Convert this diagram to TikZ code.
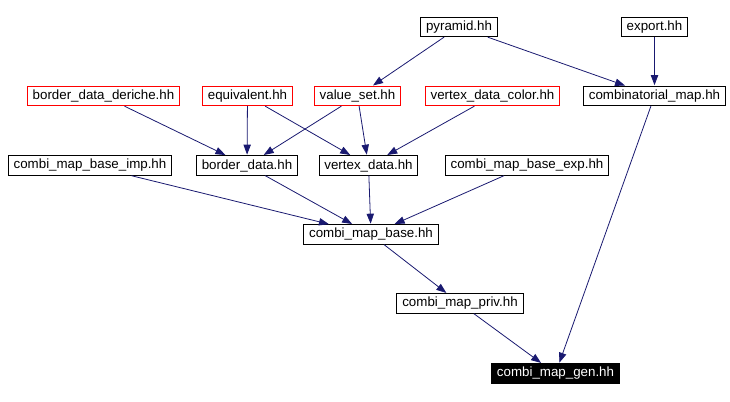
\documentclass[tikz,border=0pt]{standalone}
\usepackage{fontspec}
\setmainfont{Liberation Sans}
\usepackage{tikz}
\usetikzlibrary{arrows.meta}
\usepackage{xcolor}
\definecolor{edgeblue}{HTML}{191970}

\begin{document}
\begin{tikzpicture}[x=0.75pt, y=-0.75pt,
	every node/.style={rectangle, draw, line width=0.75pt, minimum height=14.5pt, inner xsep=4pt, inner ysep=0pt, font=\fontsize{10}{12}\selectfont},
	redbox/.style={draw=red},
	genbox/.style={fill=black, text=white},
	dep/.style={draw=edgeblue, line width=0.6pt, -{Triangle[length=7.5pt, width=5.5pt]}, shorten >=0.5pt}]
	\useasboundingbox (0,0) rectangle (730,401);

	\node (pyr) at (459,27)    {pyramid.hh};
	\node (exp) at (654.5,27)  {export.hh};
	\node[redbox] (bdd) at (103.5,96) {border\_data\_deriche.hh};
	\node[redbox] (equ) at (247.5,96) {equivalent.hh};
	\node[redbox] (vs)  at (357.5,96) {value\_set.hh};
	\node[redbox] (vdc) at (492.5,96) {vertex\_data\_color.hh};
	\node (cm)  at (654.5,96)  {combinatorial\_map.hh};
	\node (imp) at (90,165.5)  {combi\_map\_base\_imp.hh};
	\node (bd)  at (247,165.5) {border\_data.hh};
	\node (vd)  at (368.5,165.5) {vertex\_data.hh};
	\node (bexp) at (527,165.5) {combi\_map\_base\_exp.hh};
	\node (base) at (371,234.5) {combi\_map\_base.hh};
	\node (priv) at (460,303.5) {combi\_map\_priv.hh};
	\node[genbox] (gen) at (555.5,373.5) {combi\_map\_gen.hh};

	\draw[dep] (pyr) -- (vs);
	\draw[dep] (pyr) -- (cm);
	\draw[dep] (exp) -- (cm);
	\draw[dep] (bdd) -- (bd);
	\draw[dep] (equ) -- (bd);
	\draw[dep] (equ) -- (vd);
	\draw[dep] (vs) -- (bd);
	\draw[dep] (vs) -- (vd);
	\draw[dep] (vdc) -- (vd);
	\draw[dep] (cm) -- (gen);
	\draw[dep] (imp) -- (base);
	\draw[dep] (bd) -- (base);
	\draw[dep] (vd) -- (base);
	\draw[dep] (bexp) -- (base);
	\draw[dep] (base) -- (priv);
	\draw[dep] (priv) -- (gen);
\end{tikzpicture}
\end{document}
